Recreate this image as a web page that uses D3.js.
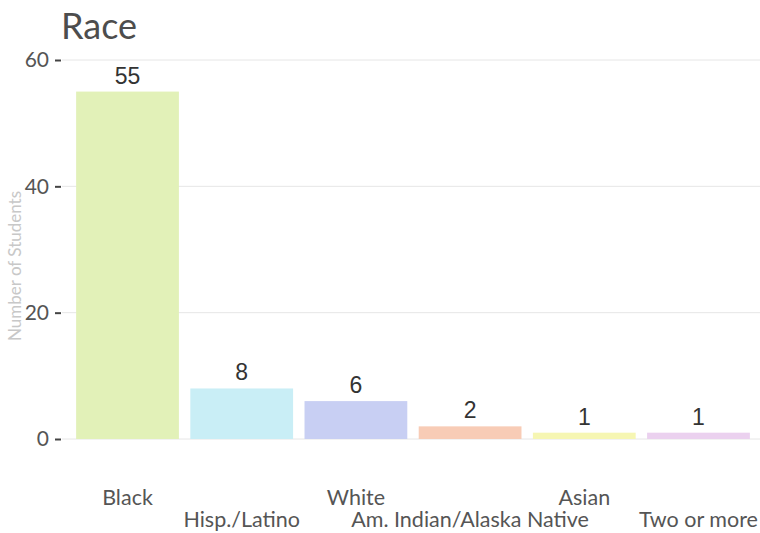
<!DOCTYPE html>
<html>
<head>
<meta charset="utf-8">
<script src="https://cdn.jsdelivr.net/npm/d3@7"></script>
<style>
  html, body { margin: 0; padding: 0; background: #fff; }
  svg { display: block; }
  .val { font-family: Arial, "Liberation Sans", Helvetica, sans-serif; font-size: 23px; }
  .lato { font-family: Lato, sans-serif; }
</style>
</head>
<body>
<svg id="chart" width="760" height="533"></svg>
<script>
const categories = ["Black", "Hisp./Latino", "White", "Am. Indian/Alaska Native", "Asian", "Two or more"];
const values = [55, 8, 6, 2, 1, 1];
const colors = ["#e2f1b8", "#c9eef6", "#c8cff3", "#f8ccb6", "#f6f6b3", "#ebd1ef"];
const yTicks = [0, 20, 40, 60];
const title = "Race";
const yTitle = "Number of Students";

const svg = d3.select("#chart");

const x = d3.scaleBand()
  .domain(categories)
  .range([59, 767])
  .paddingInner(0.1)
  .paddingOuter(0.15);

const y = d3.scaleLinear()
  .domain([0, 60])
  .range([439, 60]);

// gridlines
svg.append("g")
  .selectAll("line")
  .data(yTicks)
  .join("line")
  .attr("x1", 62)
  .attr("x2", 760)
  .attr("y1", d => y(d))
  .attr("y2", d => y(d))
  .attr("stroke", "#e6e6e6")
  .attr("stroke-width", 1);

// bars
svg.append("g")
  .selectAll("rect")
  .data(categories)
  .join("rect")
  .attr("x", d => x(d))
  .attr("width", x.bandwidth())
  .attr("y", (d, i) => y(values[i]))
  .attr("height", (d, i) => y(0) - y(values[i]))
  .attr("fill", (d, i) => colors[i]);

// value labels
svg.append("g")
  .selectAll("text")
  .data(categories)
  .join("text")
  .attr("class", "val")
  .attr("x", d => x(d) + x.bandwidth() / 2)
  .attr("y", (d, i) => y(values[i]) - 8)
  .attr("text-anchor", "middle")
  .attr("fill", "#333")
  .text((d, i) => values[i]);

// y axis
const yAxis = d3.axisLeft(y).tickValues(yTicks).tickSize(6).tickPadding(6);
const gy = svg.append("g")
  .attr("transform", "translate(61,0)")
  .call(yAxis);
gy.select(".domain").remove();
gy.selectAll(".tick line").attr("stroke", "#444").attr("stroke-width", 2);
gy.selectAll(".tick text")
  .attr("class", "lato")
  .style("font-size", "21px")
  .attr("fill", "#555");

// x labels (staggered)
svg.append("g")
  .selectAll("text")
  .data(categories)
  .join("text")
  .attr("class", "lato")
  .attr("x", d => x(d) + x.bandwidth() / 2)
  .attr("y", (d, i) => i % 2 === 0 ? 505 : 527)
  .attr("text-anchor", "middle")
  .style("font-size", "21.5px")
  .attr("fill", "#555")
  .text(d => d);

// title
svg.append("text")
  .attr("class", "lato")
  .attr("x", 61)
  .attr("y", 39)
  .style("font-size", "36px")
  .attr("fill", "#4d4d4d")
  .text(title);

// y title
svg.append("text")
  .attr("class", "lato")
  .attr("transform", "translate(21,266) rotate(-90)")
  .attr("text-anchor", "middle")
  .style("font-size", "17px")
  .attr("fill", "#c8c8c8")
  .text(yTitle);
</script>
</body>
</html>
